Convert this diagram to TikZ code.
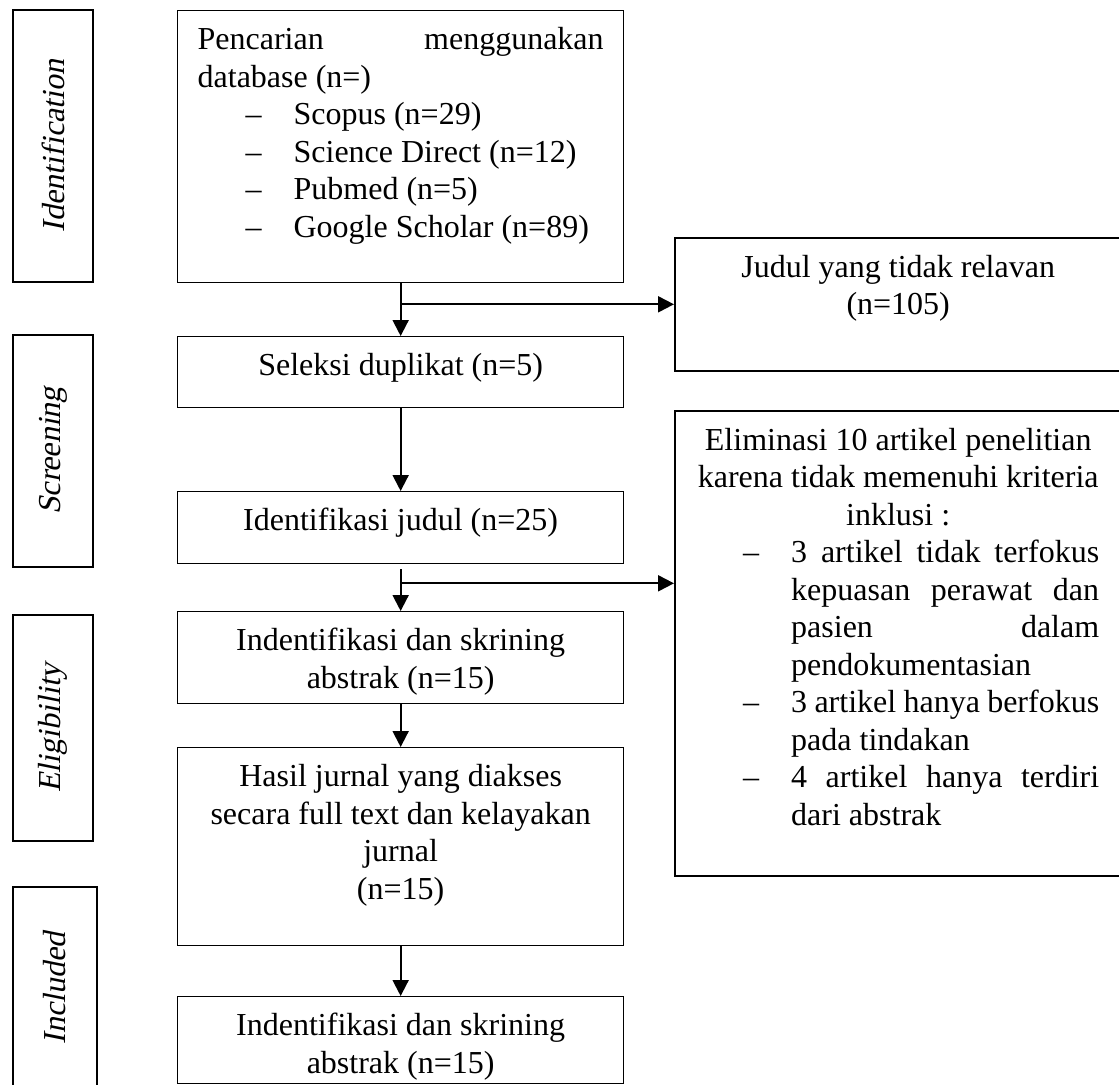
\documentclass[tikz,border=0pt]{standalone}
\usepackage{fontspec}
\setmainfont{Liberation Serif}[AutoFakeSlant=0.2]
\usetikzlibrary{arrows.meta,calc}
\newcommand{\ls}{\rule{0pt}{13pt}}
\newcommand{\dashitem}[1]{\hspace*{34pt}\makebox[24pt][l]{--}#1}
\newcommand{\ind}{\hspace*{58pt}}
\begin{document}
\begin{tikzpicture}[x=0.5pt,y=-0.5pt,
  every node/.style={font=\fontsize{16}{18.75}\selectfont},
  mainbox/.style={draw, line width=0.65pt, inner sep=0pt, anchor=north west},
  sidebox/.style={draw, line width=1.2pt, inner sep=0pt, anchor=north west},
  phase/.style={draw, line width=0.6pt, inner sep=0pt, rotate=90,
    minimum height=40pt, font=\fontsize{16}{18.75}\selectfont\itshape},
  arr/.style={line width=1pt, -{Triangle[length=8pt,width=8pt]}}
]
\fill[white] (0,0) rectangle (1119,1084);
\useasboundingbox (0,0) rectangle (1119,1084);

% phase labels
\node[phase, minimum width=136pt] (pid) at (53,146) {Identification};
\node[phase, minimum width=116pt] (psc) at (53,451) {Screening};
\node[phase, minimum width=113pt] (pel) at (53,728) {Eligibility};
\node[phase, minimum width=101.5pt, minimum height=42pt] (pin) at (55,988.5) {Included};

% main column
\node[mainbox] (b1) at (177,10) {\parbox[c][136pt][t]{223pt}{\vspace*{6.5pt}%
\ls\hspace*{10pt}\makebox[203pt][s]{Pencarian menggunakan}\par
\ls\hspace*{10pt}database (n=)\par
\ls\dashitem{Scopus (n=29)}\par
\ls\dashitem{Science Direct (n=12)}\par
\ls\dashitem{Pubmed (n=5)}\par
\ls\dashitem{Google Scholar (n=89)}\par}};

\node[mainbox] (sel) at (177,336) {\parbox[c][35.5pt][t]{223pt}{\vspace*{6.5pt}\centering
\ls Seleksi duplikat (n=5)\par}};

\node[mainbox] (idj) at (177,491) {\parbox[c][36pt][t]{223pt}{\vspace*{6.5pt}\centering
\ls Identifikasi judul (n=25)\par}};

\node[mainbox] (ind) at (177,611) {\parbox[c][46pt][t]{223pt}{\vspace*{6.5pt}\centering
\ls Indentifikasi dan skrining\par
\ls abstrak (n=15)\par}};

\node[mainbox] (has) at (177,747) {\parbox[c][99pt][t]{223pt}{\vspace*{6.5pt}\centering
\ls Hasil jurnal yang diakses\par
\ls secara full text dan kelayakan\par
\ls jurnal\par
\ls (n=15)\par}};

\node[mainbox] (inc) at (177,996) {\parbox[c][43.5pt][t]{223pt}{\vspace*{6.5pt}\centering
\ls Indentifikasi dan skrining\par
\ls abstrak (n=15)\par}};

% side boxes
\node[sidebox] (jud) at (674,237) {\parbox[c][66.5pt][t]{224pt}{\vspace*{6.5pt}%
\makebox[223pt][c]{\ls Judul yang tidak relavan}\par
\makebox[223pt][c]{\ls (n=105)}\par}};

\node[sidebox] (eli) at (674,410) {\parbox[c][232.5pt][t]{224pt}{\vspace*{6.5pt}%
\makebox[223pt][c]{\ls Eliminasi 10 artikel penelitian}\par
\makebox[223pt][c]{\ls karena tidak memenuhi kriteria}\par
\makebox[223pt][c]{\ls inklusi :}\par
\ls\dashitem{\makebox[154pt][s]{3 artikel tidak terfokus}}\par
\ls\ind\makebox[154pt][s]{kepuasan perawat dan}\par
\ls\ind\makebox[154pt][s]{pasien dalam}\par
\ls\ind pendokumentasian\par
\ls\dashitem{\makebox[154pt][s]{3 artikel hanya berfokus}}\par
\ls\ind pada tindakan\par
\ls\dashitem{\makebox[154pt][s]{4 artikel hanya terdiri}}\par
\ls\ind dari abstrak\par}};

% connectors
\draw[arr] (b1.south) -- (sel.north);
\path (b1.south) ++(0,21) coordinate (br1);
\draw[arr] (br1) -- (br1 -| jud.west);
\draw[arr] (sel.south) -- (idj.north);
\path (idj.south) ++(0,5) coordinate (st2);
\path (idj.south) ++(0,19) coordinate (br2);
\draw[arr] (st2) -- (ind.north);
\draw[arr] (br2) -- (br2 -| eli.west);
\draw[arr] (ind.south) -- (has.north);
\draw[arr] (has.south) -- (inc.north);
\end{tikzpicture}
\end{document}
